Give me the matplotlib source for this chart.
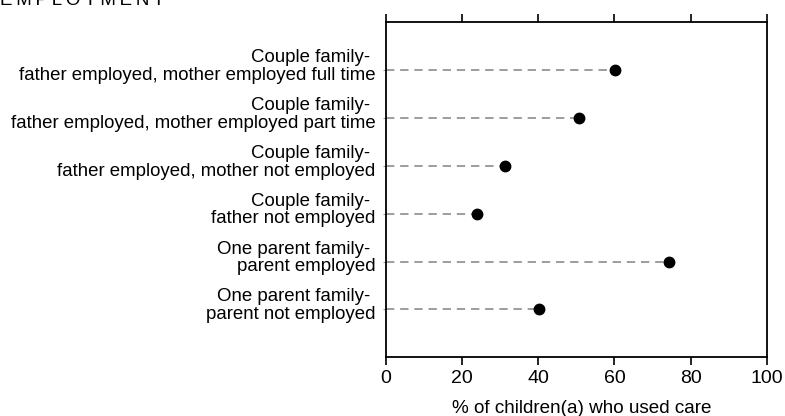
import matplotlib
matplotlib.use("Agg")
import matplotlib.pyplot as plt
import matplotlib.transforms as mtransforms
import numpy as np

plt.rcParams['font.family'] = ['Liberation Sans', 'DejaVu Sans']

categories = [
    "Couple family- \nfather employed, mother employed full time",
    "Couple family- \nfather employed, mother employed part time",
    "Couple family- \nfather employed, mother not employed",
    "Couple family- \nfather not employed",
    "One parent family- \nparent employed",
    "One parent family- \nparent not employed",
]
values = [60.2, 50.8, 31.3, 24.0, 74.3, 40.3]
xticks = [0, 20, 40, 60, 80, 100]
xlabel = "% of children(a) who used care"
title = "EMPLOYMENT"

fig = plt.figure(figsize=(7.85, 4.16), dpi=100)
ax = fig.add_axes([0.4917, 0.1411, 0.4850, 0.8053])

y = np.arange(len(categories))
ax.hlines(y, 0, values, colors="#8c8c8c", linestyles=(0, (5, 3.5)), linewidth=1.2, zorder=2)
ax.plot(values, y, "o", color="black", markersize=7.5, zorder=3)

ax.set_xlim(0, 100)
ax.set_ylim(len(categories), -1)
ax.set_xticks(xticks)
ax.set_xticklabels([str(t) for t in xticks], fontsize=14)
ax.tick_params(axis="x", which="major", direction="out", length=6, width=1.2,
               top=True, bottom=True, labeltop=False, pad=3)
ax.set_yticks(y)
ax.set_yticklabels(categories, fontsize=13.4, linespacing=1.05)
ax.tick_params(axis="y", direction="out", length=2.5, width=0.8, color="#999999", pad=5)
ax.set_xlabel(xlabel, fontsize=13.6)
ax.xaxis.set_label_coords(0.514, -0.126)
ax.xaxis.label.set_verticalalignment("top")
for s in ax.spines.values():
    s.set_linewidth(1.3)
    s.set_color("black")

offset = mtransforms.ScaledTranslation(0, 6 / 100, fig.dpi_scale_trans)
for lab in ax.get_yticklabels():
    lab.set_transform(lab.get_transform() + offset)

fig.text(0.0, 0.988, "\u2009".join(title), fontsize=13.5, ha="left", va="baseline")

fig.savefig("out.png", dpi=100)
